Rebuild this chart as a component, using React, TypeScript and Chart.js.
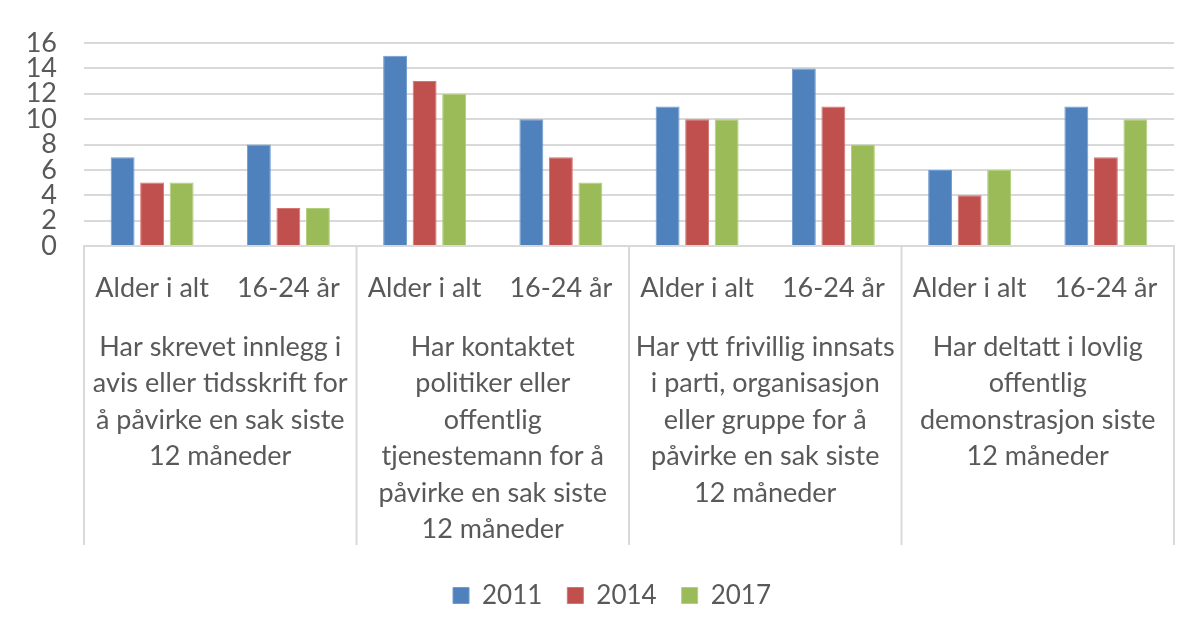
import React, { useEffect, useRef } from 'react';
import { Chart, registerables } from 'chart.js';

Chart.register(...registerables);

const subLabels = ['Alder i alt', '16-24 år', 'Alder i alt', '16-24 år', 'Alder i alt', '16-24 år', 'Alder i alt', '16-24 år'];

const groupLabels: string[][] = [
  ['Har skrevet innlegg i', 'avis eller tidsskrift for', 'å påvirke en sak siste', '12 måneder'],
  ['Har kontaktet', 'politiker eller', 'offentlig', 'tjenestemann for å', 'påvirke en sak siste', '12 måneder'],
  ['Har ytt frivillig innsats', 'i parti, organisasjon', 'eller gruppe for å', 'påvirke en sak siste', '12 måneder'],
  ['Har deltatt i lovlig', 'offentlig', 'demonstrasjon siste', '12 måneder'],
];

const seriesNames = ['2011', '2014', '2017'];
const values2011 = [7, 8, 15, 10, 11, 14, 6, 11];
const values2014 = [5, 3, 13, 7, 10, 11, 4, 7];
const values2017 = [5, 3, 12, 5, 10, 8, 6, 10];

const yTicks = [0, 2, 4, 6, 8, 10, 12, 14, 16];

const FONT = 'Lato';
const TEXT = '#595959';
const GRID = '#d9d9d9';
const FS = 27;

const groupPlugin = {
  id: 'groupPlugin',
  afterLayout(chart: any) {
    const lg = chart.legend;
    if (lg) {
      lg.left += 25;
      lg.right += 25;
    }
  },
  afterDraw(chart: any) {
    const { ctx, chartArea } = chart;
    const x = chart.scales.x;
    const half = (x.getPixelForValue(1) - x.getPixelForValue(0)) / 2;
    const bottom = chartArea.bottom;
    ctx.save();
    ctx.strokeStyle = GRID;
    ctx.lineWidth = 2;
    for (let k = 0; k <= groupLabels.length; k++) {
      const px = k < groupLabels.length ? x.getPixelForValue(2 * k) - half : x.getPixelForValue(2 * k - 1) + half;
      ctx.beginPath();
      ctx.moveTo(px, bottom);
      ctx.lineTo(px, bottom + 299);
      ctx.stroke();
    }
    ctx.fillStyle = TEXT;
    ctx.font = `${FS}px ${FONT}`;
    ctx.textAlign = 'center';
    ctx.textBaseline = 'middle';
    groupLabels.forEach((lines, g) => {
      const cx = (x.getPixelForValue(2 * g) + x.getPixelForValue(2 * g + 1)) / 2;
      lines.forEach((line, i) => {
        ctx.fillText(line, cx, bottom + 101 + i * 36.5);
      });
    });
    ctx.restore();
  },
};

export default function App() {
  const ref = useRef<HTMLCanvasElement | null>(null);
  useEffect(() => {
    if (!ref.current) return;
    const chart = new Chart(ref.current, {
      type: 'bar',
      data: {
        labels: subLabels,
        datasets: [
          { label: seriesNames[0], data: values2011, backgroundColor: '#4F81BD', borderColor: '#6f9bd0', borderWidth: 1 },
          { label: seriesNames[1], data: values2014, backgroundColor: '#C0504D', borderColor: '#d57572', borderWidth: 1 },
          { label: seriesNames[2], data: values2017, backgroundColor: '#9BBB59', borderColor: '#b3cf7b', borderWidth: 1 },
        ],
      },
      options: {
        responsive: false,
        animation: false,
        layout: { padding: { top: 43, right: 23, bottom: 15.5, left: 0 } },
        datasets: { bar: { categoryPercentage: 0.65, barPercentage: 0.81 } },
        plugins: {
          legend: {
            position: 'bottom',
            labels: {
              boxWidth: 16,
              boxHeight: 16,
              padding: 25,
              color: TEXT,
              font: { family: FONT, size: 26 },
            },
          },
          tooltip: { enabled: false },
        },
        scales: {
          x: {
            grid: { display: false },
            border: { display: true, color: GRID, width: 2 },
            ticks: {
              color: TEXT,
              font: { family: FONT, size: FS },
              padding: 18,
              autoSkip: false,
              maxRotation: 0,
              minRotation: 0,
            },
            afterFit(scale: any) {
              scale.height = 311.5;
            },
          },
          y: {
            min: 0,
            max: 16,
            border: { display: false },
            grid: { color: GRID, lineWidth: 2, drawTicks: false },
            afterBuildTicks(scale: any) {
              scale.ticks = yTicks.map((v) => ({ value: v }));
            },
            ticks: {
              color: TEXT,
              font: { family: FONT, size: FS, lineHeight: 1 },
              padding: 27,
              autoSkip: false,
            },
            afterFit(scale: any) {
              scale.width = 84;
            },
          },
        },
      },
      plugins: [groupPlugin],
    });
    return () => chart.destroy();
  }, []);
  return (
    <div style={{ position: 'absolute', left: 0, top: 0, width: 1197, height: 634, background: '#fff' }}>
      <canvas ref={ref} width={1197} height={634} style={{ width: 1197, height: 634 }} />
    </div>
  );
}
